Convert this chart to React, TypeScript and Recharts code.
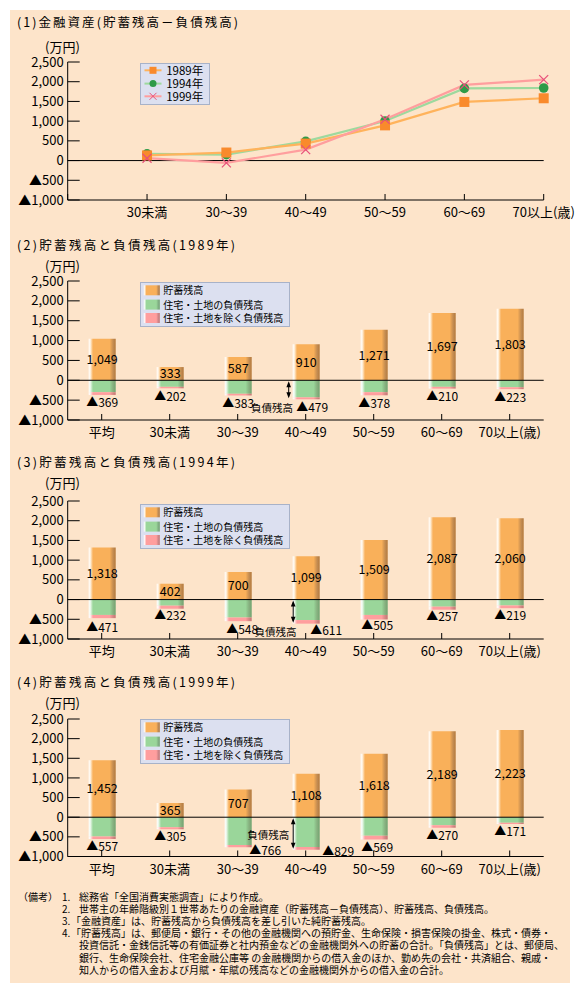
import React from "react";
import { ComposedChart, Bar, Line, XAxis, YAxis, ReferenceLine, LabelList } from "recharts";

// ---------- data ----------
const ageGroups = ["平均", "30未満", "30～39", "40～49", "50～59", "60～69", "70以上(歳)"];
const yTicks = [-1000, -500, 0, 500, 1000, 1500, 2000, 2500];

const lineYears = ["1989年", "1994年", "1999年"];
const net1989 = [null, 131, 204, 431, 893, 1487, 1580];
const net1994 = [null, 170, 152, 488, 1004, 1830, 1841];
const net1999 = [null, 60, -59, 279, 1049, 1919, 2052];

const barSeriesNames = ["貯蓄残高", "住宅・土地の負債残高", "住宅・土地を除く負債残高"];

const savings1989 = [1049, 333, 587, 910, 1271, 1697, 1803];
const debt1989 = [369, 202, 383, 479, 378, 210, 223];
const housing1989 = [300, 165, 340, 430, 300, 165, 175];
const other1989 = [69, 37, 43, 49, 78, 45, 48];

const savings1994 = [1318, 402, 700, 1099, 1509, 2087, 2060];
const debt1994 = [471, 232, 548, 611, 505, 257, 219];
const housing1994 = [390, 155, 455, 520, 390, 180, 150];
const other1994 = [81, 77, 93, 91, 115, 77, 69];

const savings1999 = [1452, 365, 707, 1108, 1618, 2189, 2223];
const debt1999 = [557, 305, 766, 829, 569, 270, 171];
const housing1999 = [490, 255, 710, 755, 470, 205, 140];
const other1999 = [67, 50, 56, 74, 99, 65, 31];

const notes = [
  "総務省「全国消費実態調査」により作成。",
  "世帯主の年齢階級別１世帯あたりの金融資産（貯蓄残高－負債残高）、貯蓄残高、負債残高。",
  "「金融資産」は、貯蓄残高から負債残高を差し引いた純貯蓄残高。",
  "「貯蓄残高」は、郵便局・銀行・その他の金融機関への預貯金、生命保険・損害保険の掛金、株式・債券・",
  "投資信託・金銭信託等の有価証券と社内預金などの金融機関外への貯蓄の合計。「負債残高」とは、郵便局、",
  "銀行、生命保険会社、住宅金融公庫等 の金融機関からの借入金のほか、勤め先の会社・共済組合、親戚・",
  "知人からの借入金および月賦・年賦の残高などの金融機関外からの借入金の合計。",
];

// ---------- style ----------
const FONT = '"Noto Sans CJK JP", "Noto Sans", sans-serif';
const PEACH = "#FDE4CA";
const LEGEND_BG = "#DCE0F0";
const LEGEND_BORDER = "#A8B2C8";
const C_ORANGE = "#F9B05A";
const C_GREEN = "#9AD69A";
const C_PINK = "#FF9E9E";
const LINE_COLORS = ["#FFB35C", "#9ED99E", "#FF9E9E"];
const MARK_COLORS = ["#F98A2C", "#2E9B48", "#E8507A"];

const PLOT_LEFT = 67.7;
const PLOT_RIGHT_MARGIN = 580 - 543.7;
const CHART_H = 182;
const TOP_M = 10;

const fmt = (v: number) =>
  v < 0 ? "▲" + Math.abs(v).toLocaleString("en-US") : v.toLocaleString("en-US");

const YTick = (props: any) => {
  const { y, payload } = props;
  return (
    <g>
      <line x1={PLOT_LEFT} x2={PLOT_LEFT + 12} y1={y} y2={y} stroke="#000" strokeWidth={1} />
      <text x={PLOT_LEFT - 4} y={y + 4.6} textAnchor="end" fontSize={13} fontFamily={FONT} fill="#000">
        {fmt(payload.value)}
      </text>
    </g>
  );
};

const makeXTick = (hideFirst: boolean) => (props: any) => {
  const { x, y, payload, index } = props;
  const label = hideFirst && index === 0 ? "" : payload.value;
  return (
    <g>
      <line x1={x} x2={x} y1={y} y2={y - 6} stroke="#000" strokeWidth={1} />
      <text x={x} y={y + 17} textAnchor="middle" fontSize={13} fontFamily={FONT} fill="#000">
        {label}
      </text>
    </g>
  );
};

const vb = (p: any) => {
  const v = p.viewBox || {};
  const x = v.x ?? p.x ?? 0;
  const y = v.y ?? p.y ?? 0;
  const w = v.width ?? p.width ?? 0;
  const h = v.height ?? p.height ?? 0;
  return { x, y, w, h };
};

const SavingsLabel = (p: any) => {
  const { x, y, w, h } = vb(p);
  const cy = y + h / 2;
  return (
    <text x={x + w / 2} y={cy + 4.5} textAnchor="middle" fontSize={12.5} fontFamily={FONT} fill="#000">
      {Number(p.value).toLocaleString("en-US")}
    </text>
  );
};

const makeDebtLabel = (offsets: number[][]) => (p: any) => {
  const { x, y, w, h } = vb(p);
  const bottom = Math.max(y, y + h);
  const [dx, dy] = offsets[p.index] || [0, 8];
  return (
    <text x={x + w / 2 + dx} y={bottom + dy + 4.5} textAnchor="middle" fontSize={12} fontFamily={FONT} fill="#000">
      {"▲" + Number(p.value).toLocaleString("en-US")}
    </text>
  );
};

const Gradients = () => (
  <svg width={0} height={0} style={{ position: "absolute" }}>
    <defs>
      {[
        ["gOrange", C_ORANGE, "#FFF2E0", "#B5793A"],
        ["gGreen", C_GREEN, "#EEF9EE", "#6FA46F"],
        ["gPink", C_PINK, "#FFF0F0", "#C87474"],
      ].map(([id, c, light, dark]) => (
        <linearGradient key={id} id={id} x1="0" y1="0" x2="1" y2="0">
          <stop offset="0" stopColor="#FFFFFF" />
          <stop offset="0.06" stopColor={light} />
          <stop offset="0.16" stopColor={c} />
          <stop offset="0.78" stopColor={c} />
          <stop offset="0.92" stopColor={dark} stopOpacity={0.85} />
          <stop offset="1" stopColor={dark} />
        </linearGradient>
      ))}
    </defs>
  </svg>
);

const Txt = ({ x, y, size, children, anchor = "start", tl }: any) => (
  <text x={x} y={y} fontSize={size} fontFamily={FONT} fill="#000" textAnchor={anchor}
    {...(tl ? { textLength: tl, lengthAdjust: "spacing" } : {})}>
    {children}
  </text>
);

// ---------- panels ----------
type BarPanelProps = {
  plotTop: number;
  plotH: number;
  savings: number[];
  housing: number[];
  other: number[];
  debt: number[];
  offsets: number[][];
  arrowDx: number;
  noteDx: number;
  noteDy: number;
  noteFromBottom: boolean;
};

function BarPanel(pp: BarPanelProps) {
  const data = ageGroups.map((age, i) => ({
    age,
    savings: pp.savings[i],
    housing: -pp.housing[i],
    other: -pp.other[i],
    debt: pp.debt[i],
  }));
  const xH = CHART_H - TOP_M - pp.plotH;
  const arrowShape = (p: any) => {
    const ax = p.x1 + pp.arrowDx;
    const y1 = Math.min(p.y1, p.y2);
    const y2 = Math.max(p.y1, p.y2);
    const ty = pp.noteFromBottom ? y2 + pp.noteDy : y1 + pp.noteDy;
    return (
      <g>
        <line x1={ax} x2={ax} y1={y1 + 3} y2={y2 - 3} stroke="#000" strokeWidth={1} />
        <polygon points={`${ax},${y1 + 1} ${ax - 2.3},${y1 + 7} ${ax + 2.3},${y1 + 7}`} fill="#000" />
        <polygon points={`${ax},${y2 - 1} ${ax - 2.3},${y2 - 7} ${ax + 2.3},${y2 - 7}`} fill="#000" />
        <text x={ax + pp.noteDx} y={ty + 4} textAnchor="end" fontSize={10.5} fontFamily={FONT} fill="#000">
          負債残高
        </text>
      </g>
    );
  };
  return (
    <div style={{ position: "absolute", left: 0, top: pp.plotTop - TOP_M }}>
      <ComposedChart
        width={580}
        height={CHART_H}
        data={data}
        stackOffset="sign"
        barSize={27}
        margin={{ top: TOP_M, right: PLOT_RIGHT_MARGIN, bottom: 0, left: 0 }}
      >
        <XAxis dataKey="age" type="category" interval={0} height={xH} axisLine={{ stroke: "#000" }}
          tickLine={false} tickSize={0} tickMargin={0} tick={makeXTick(false)} />
        <YAxis type="number" domain={[-1000, 2500]} ticks={yTicks} width={PLOT_LEFT} interval={0}
          axisLine={{ stroke: "#000" }} tickLine={false} tickSize={0} tickMargin={0} tick={YTick}
          allowDataOverflow />
        <ReferenceLine y={0} stroke="#000" strokeWidth={1} />
        <Bar dataKey="savings" stackId="s" fill="url(#gOrange)" isAnimationActive={false}>
          <LabelList dataKey="savings" content={SavingsLabel} />
        </Bar>
        <Bar dataKey="housing" stackId="s" fill="url(#gGreen)" isAnimationActive={false} />
        <Bar dataKey="other" stackId="s" fill="url(#gPink)" isAnimationActive={false}>
          <LabelList dataKey="debt" content={makeDebtLabel(pp.offsets)} />
        </Bar>
        <ReferenceLine
          segment={[
            { x: ageGroups[3], y: 0 },
            { x: ageGroups[3], y: -pp.debt[3] },
          ]}
          ifOverflow="visible"
          shape={arrowShape}
        />
      </ComposedChart>
    </div>
  );
}

const SquareDot = (p: any) => {
  if (p.value == null || p.cy == null) return <g key={p.key} />;
  return <rect key={p.key} x={p.cx - 5} y={p.cy - 5} width={10} height={10} fill={MARK_COLORS[0]} />;
};
const CircleDot = (p: any) => {
  if (p.value == null || p.cy == null) return <g key={p.key} />;
  return <circle key={p.key} cx={p.cx} cy={p.cy} r={4.8} fill={MARK_COLORS[1]} />;
};
const XDot = (p: any) => {
  if (p.value == null || p.cy == null) return <g key={p.key} />;
  const s = 4.5;
  return (
    <g key={p.key}>
      <line x1={p.cx - s} y1={p.cy - s} x2={p.cx + s} y2={p.cy + s} stroke={MARK_COLORS[2]} strokeWidth={1.2} />
      <line x1={p.cx - s} y1={p.cy + s} x2={p.cx + s} y2={p.cy - s} stroke={MARK_COLORS[2]} strokeWidth={1.2} />
    </g>
  );
};

function LinePanel({ plotTop, plotH }: { plotTop: number; plotH: number }) {
  const data = ageGroups.map((age, i) => ({ age, y1989: net1989[i], y1994: net1994[i], y1999: net1999[i] }));
  const xH = CHART_H - TOP_M - plotH;
  return (
    <div style={{ position: "absolute", left: 0, top: plotTop - TOP_M }}>
      <ComposedChart width={580} height={CHART_H} data={data}
        margin={{ top: TOP_M, right: PLOT_RIGHT_MARGIN, bottom: 0, left: 0 }}>
        <XAxis dataKey="age" type="category" interval={0} height={xH} axisLine={{ stroke: "#000" }}
          tickLine={false} tickSize={0} tickMargin={0} tick={makeXTick(true)} />
        <YAxis type="number" domain={[-1000, 2500]} ticks={yTicks} width={PLOT_LEFT} interval={0}
          axisLine={{ stroke: "#000" }} tickLine={false} tickSize={0} tickMargin={0} tick={YTick}
          allowDataOverflow />
        <ReferenceLine y={0} stroke="#000" strokeWidth={1} />
        <Line dataKey="y1994" type="linear" stroke={LINE_COLORS[1]} strokeWidth={2.2} dot={CircleDot}
          activeDot={false} isAnimationActive={false} />
        <Line dataKey="y1989" type="linear" stroke={LINE_COLORS[0]} strokeWidth={2.2} dot={SquareDot}
          activeDot={false} isAnimationActive={false} />
        <Line dataKey="y1999" type="linear" stroke={LINE_COLORS[2]} strokeWidth={2.2} dot={XDot}
          activeDot={false} isAnimationActive={false} />
      </ComposedChart>
    </div>
  );
}

function LineLegend({ top }: { top: number }) {
  const rows = [7.3, 20.6, 33.3];
  return (
    <div style={{ position: "absolute", left: 139.5, top, width: 70, height: 42.6, background: LEGEND_BG,
      border: `1px solid ${LEGEND_BORDER}`, boxSizing: "border-box" }}>
      <svg width={70} height={43} style={{ position: "absolute", left: -1, top: -1 }}>
        {lineYears.map((name, i) => {
          const y = rows[i];
          const cx = 13;
          return (
            <g key={name}>
              <line x1={4.5} x2={21.5} y1={y} y2={y} stroke={LINE_COLORS[i]} strokeWidth={2} />
              {i === 0 && <rect x={cx - 3.5} y={y - 3.5} width={7} height={7} fill={MARK_COLORS[0]} />}
              {i === 1 && <circle cx={cx} cy={y} r={3.5} fill={MARK_COLORS[1]} />}
              {i === 2 && (
                <g stroke={MARK_COLORS[2]} strokeWidth={1}>
                  <line x1={cx - 3.5} y1={y - 3.5} x2={cx + 3.5} y2={y + 3.5} />
                  <line x1={cx - 3.5} y1={y + 3.5} x2={cx + 3.5} y2={y - 3.5} />
                </g>
              )}
              <text x={26.2} y={y + 4.2} fontSize={11.5} fontFamily={FONT} fill="#000">{name}</text>
            </g>
          );
        })}
      </svg>
    </div>
  );
}

function BarLegend({ top }: { top: number }) {
  const rows = [8.3, 22.6, 36];
  const fills = ["url(#gOrange)", "url(#gGreen)", "url(#gPink)"];
  return (
    <div style={{ position: "absolute", left: 139.5, top, width: 150, height: 45, background: LEGEND_BG,
      border: `1px solid ${LEGEND_BORDER}`, boxSizing: "border-box" }}>
      <svg width={150} height={45} style={{ position: "absolute", left: -1, top: -1 }}>
        {barSeriesNames.map((name, i) => (
          <g key={name}>
            <rect x={3.8} y={rows[i] - 5} width={16} height={10} fill={fills[i]} />
            <text x={23.2} y={rows[i] + 4} fontSize={10} fontFamily={FONT} fill="#000">{name}</text>
          </g>
        ))}
      </svg>
    </div>
  );
}

// ---------- app ----------
export default function App() {
  const c1 = { top: 62.3, h: 138 };
  const c2 = { top: 280.7, h: 139 };
  const c3 = { top: 501, h: 138 };
  const c4 = { top: 719.3, h: 137.5 };
  return (
    <div style={{ position: "absolute", left: 0, top: 0, width: 580, height: 994, background: "#FFFFFF", overflow: "hidden" }}>
      <Gradients />
      <div style={{ position: "absolute", left: 10, top: 10, width: 560, height: 973, background: PEACH }} />

      <svg width={580} height={994} style={{ position: "absolute", left: 0, top: 0 }}>
        <Txt x={17} y={26.5} size={12.5} tl={221}>(1)金融資産(貯蓄残高－負債残高)</Txt>
        <Txt x={45} y={51.5} size={13}>(万円)</Txt>
        <Txt x={17} y={249.5} size={12.5} tl={218}>(2)貯蓄残高と負債残高(1989年)</Txt>
        <Txt x={45} y={271} size={13}>(万円)</Txt>
        <Txt x={17} y={466.5} size={12.5} tl={218}>(3)貯蓄残高と負債残高(1994年)</Txt>
        <Txt x={45} y={487.5} size={13}>(万円)</Txt>
        <Txt x={17} y={686.5} size={12.5} tl={218}>(4)貯蓄残高と負債残高(1999年)</Txt>
        <Txt x={45} y={707.5} size={13}>(万円)</Txt>
      </svg>

      <LinePanel plotTop={c1.top} plotH={c1.h} />
      <BarPanel plotTop={c2.top} plotH={c2.h} savings={savings1989} housing={housing1989} other={other1989}
        debt={debt1989} offsets={[[0, 7.5], [0, 8.5], [0, 8.5], [6, 8.5], [0, 8.5], [0, 8.3], [0, 8]]}
        arrowDx={-17} noteDx={4.3} noteDy={8.3} noteFromBottom={true} />
      <BarPanel plotTop={c3.top} plotH={c3.h} savings={savings1994} housing={housing1994} other={other1994}
        debt={debt1994} offsets={[[0, 9], [0, 7], [4, 8], [20, 7], [3, 6.5], [0, 7], [0, 7]]}
        arrowDx={-12.5} noteDx={3.3} noteDy={8} noteFromBottom={true} />
      <BarPanel plotTop={c4.top} plotH={c4.h} savings={savings1999} housing={housing1999} other={other1999}
        debt={debt1999} offsets={[[0, 7.5], [0, 7.4], [27, 3], [32, 2], [3, 8], [0, 7.7], [0, 7.7]]}
        arrowDx={-12.5} noteDx={-4} noteDy={18} noteFromBottom={false} />

      <LineLegend top={62.7} />
      <BarLegend top={c2.top + 1} />
      <BarLegend top={c3.top + 3} />
      <BarLegend top={c4.top} />

      <svg width={580} height={994} style={{ position: "absolute", left: 0, top: 0 }}>
        <Txt x={18} y={900.5} size={10}>（備考）</Txt>
        {notes.map((n, i) => {
          const y = 900.5 + i * 12.2;
          const num = i < 4 ? `${i + 1}.` : "";
          const startX = i === 2 || i === 3 ? 71 : 79;
          return (
            <g key={i}>
              {num && <Txt x={62} y={y} size={10}>{num}</Txt>}
              <Txt x={startX} y={y} size={10}>{n}</Txt>
            </g>
          );
        })}
      </svg>
    </div>
  );
}
